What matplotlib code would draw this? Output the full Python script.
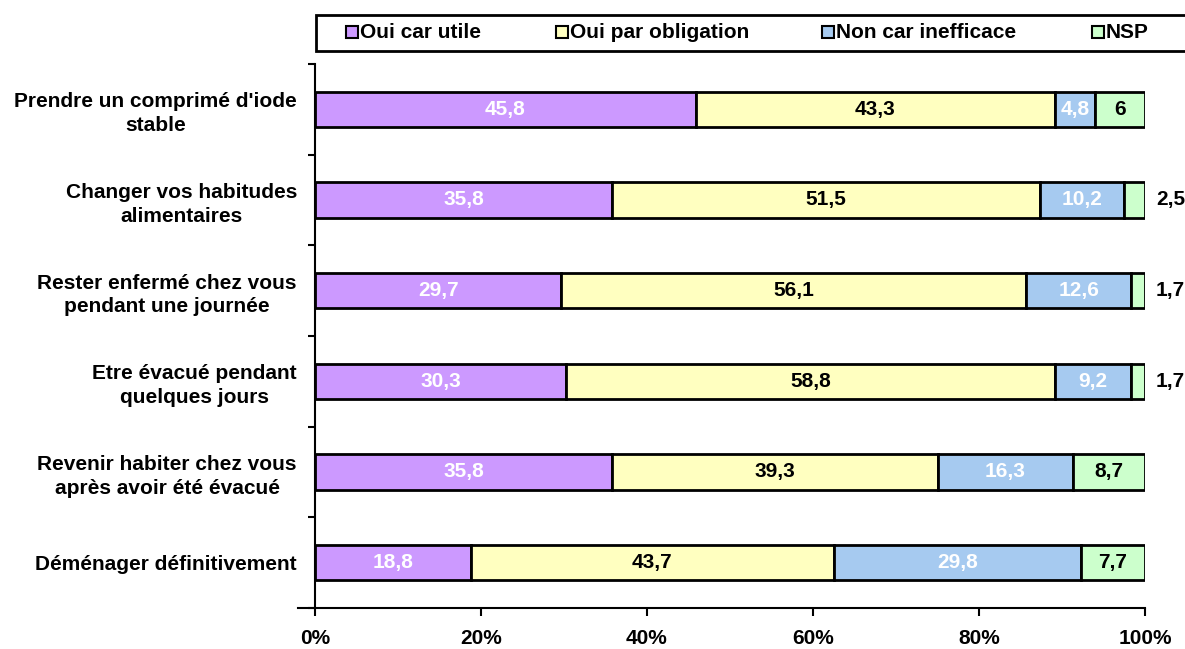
import matplotlib
matplotlib.use("Agg")
import matplotlib.pyplot as plt
from matplotlib.patches import Rectangle
import numpy as np

plt.rcParams['font.family'] = ['Liberation Sans', 'DejaVu Sans']
plt.rcParams['font.weight'] = 'bold'

categories = [
    "Prendre un comprimé d'iode\nstable",
    "Changer vos habitudes\nalimentaires",
    "Rester enfermé chez vous\npendant une journée",
    "Etre évacué pendant\nquelques jours",
    "Revenir habiter chez vous\naprès avoir été évacué",
    "Déménager définitivement",
]
series_names = ["Oui car utile", "Oui par obligation", "Non car inefficace", "NSP"]
oui_utile = [45.8, 35.8, 29.7, 30.3, 35.8, 18.8]
oui_oblig = [43.3, 51.5, 56.1, 58.8, 39.3, 43.7]
non_ineff = [4.8, 10.2, 12.6, 9.2, 16.3, 29.8]
nsp = [6, 2.5, 1.7, 1.7, 8.7, 7.7]
xtick_labels = ["0%", "20%", "40%", "60%", "80%", "100%"]

colors = ["#CC99FF", "#FFFFC0", "#A6CAF0", "#CCFFCC"]
text_colors = ["white", "black", "white", "black"]
FS = 15

W, H = 1185, 649
fig = plt.figure(figsize=(W / 100, H / 100), dpi=100)
ax = fig.add_axes([315 / W, 1 - 608 / H, (1145 - 315) / W, (608 - 64) / H])

data = np.array([oui_utile, oui_oblig, non_ineff, nsp], dtype=float)
totals = data.sum(axis=0)
pct = data / totals * 100
n = len(categories)
y = np.arange(n)
left = np.zeros(n)
for i in range(4):
    ax.barh(y, pct[i], left=left, height=0.39, color=colors[i],
            edgecolor="black", linewidth=2, zorder=3)
    for j in range(n):
        val = data[i, j]
        label = f"{val:g}".replace(".", ",")
        cx = left[j] + pct[i, j] / 2
        if i == 3 and pct[i, j] < 3:
            ax.annotate(label, xy=(100, y[j]), xytext=(8, 0), textcoords="offset points",
                        ha="left", va="center", fontsize=FS, fontweight="bold",
                        color="black", annotation_clip=False)
        else:
            ax.text(cx, y[j], label, ha="center", va="center", fontsize=FS,
                    fontweight="bold", color=text_colors[i], zorder=4)
    left += pct[i]

ax.set_xlim(0, 100)
ax.set_ylim(n - 0.5, -0.5)
ax.set_xticks(np.arange(0, 101, 20))
ax.set_xticklabels(xtick_labels, fontsize=FS, fontweight="bold")
ax.set_yticks(y)
ax.set_yticklabels(categories, fontsize=FS, fontweight="bold", multialignment="center",
                   linespacing=1.3)
ax.set_yticks(np.arange(-0.5, n, 1), minor=True)
ax.tick_params(axis="y", which="major", length=0, pad=13)
ax.tick_params(axis="y", which="minor", length=5, width=1.5, direction="out")
ax.tick_params(axis="x", which="major", length=6, width=1.5, direction="out", pad=9)
for s in ["top", "right"]:
    ax.spines[s].set_visible(False)
ax.spines["left"].set_linewidth(1.5)
ax.spines["bottom"].set_linewidth(1.5)
ax.spines["bottom"].set_bounds(-2, 100)

# Legend drawn manually in figure pixel coords
def fx(px):
    return px / W

def fy(py):
    return 1 - py / H

fig.patches.append(Rectangle((fx(316), fy(51)), fx(1200) - fx(316), fy(15) - fy(51),
                             transform=fig.transFigure, facecolor="white",
                             edgecolor="black", linewidth=2, clip_on=False))
marker_x = [352, 562, 828, 1098]
for name, c, mx in zip(series_names, colors, marker_x):
    fig.patches.append(Rectangle((fx(mx - 6), fy(38)), fx(12), fy(26) - fy(38),
                                 transform=fig.transFigure, facecolor=c,
                                 edgecolor="black", linewidth=1.5))
    fig.text(fx(mx + 8), fy(32.5), name, ha="left", va="center",
             fontsize=FS, fontweight="bold")

fig.savefig("out.png", dpi=100)
